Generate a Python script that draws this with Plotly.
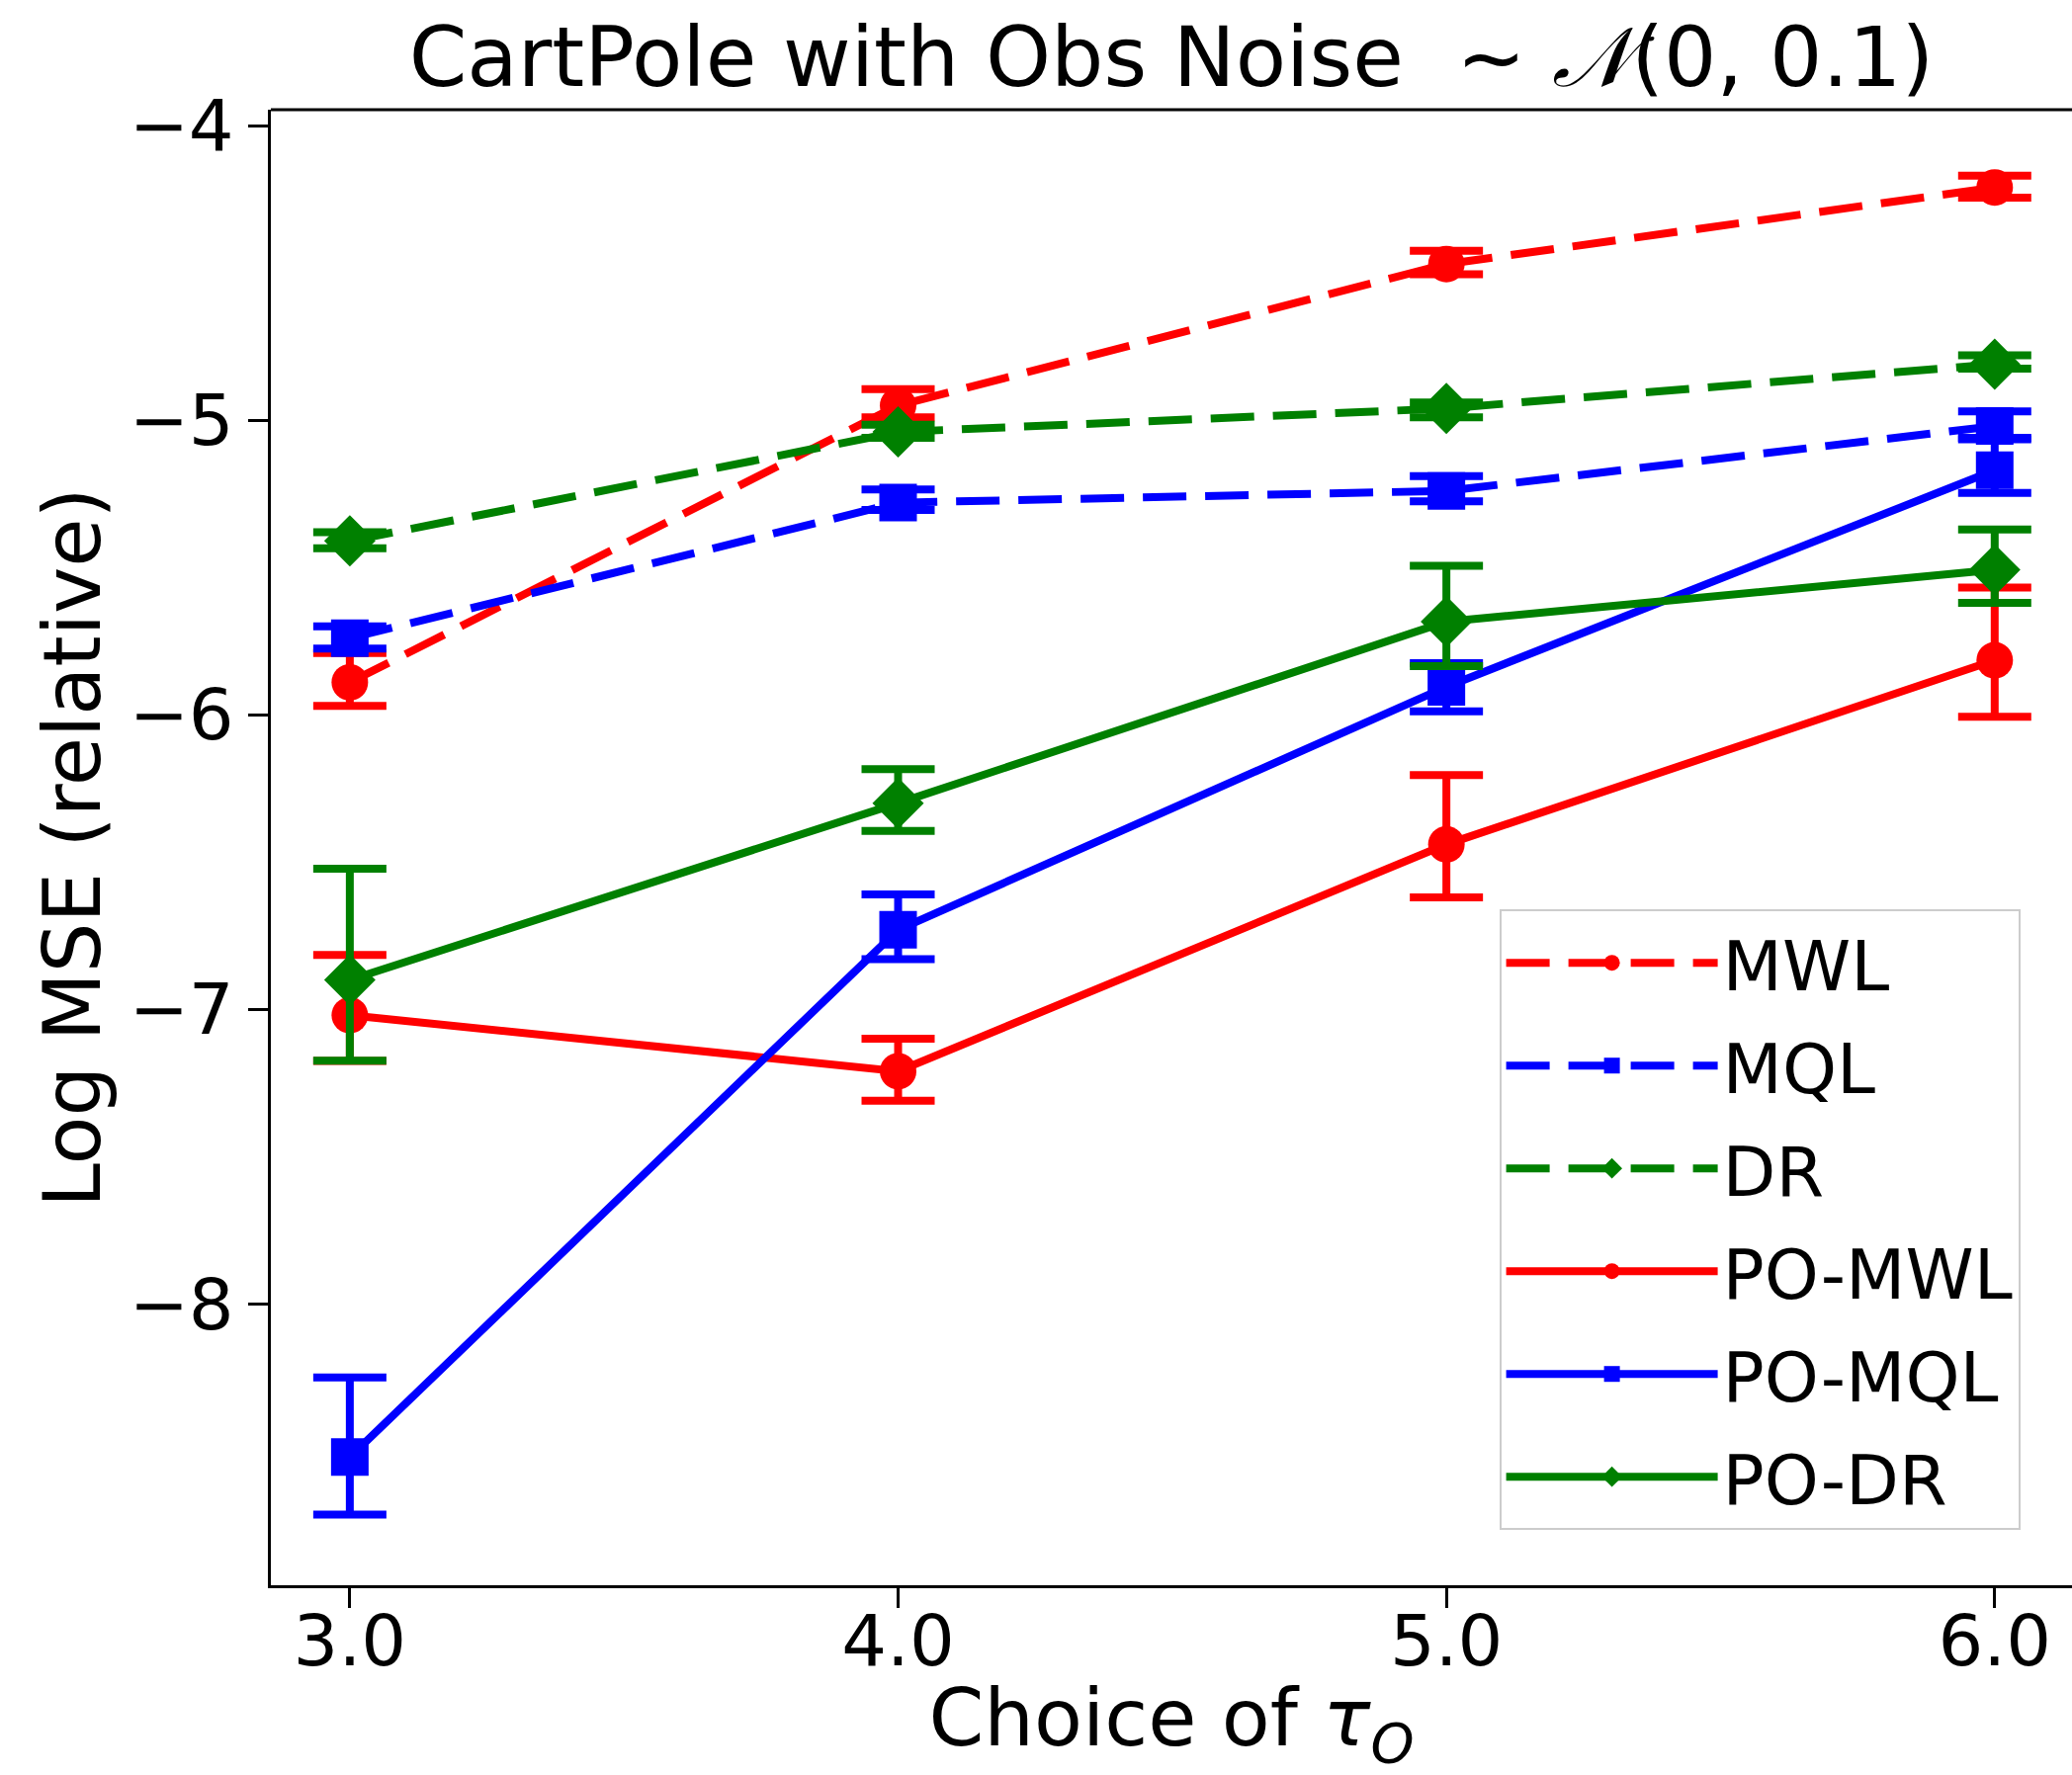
import plotly.graph_objects as go

# ---- data ----
tau = [3.0, 4.0, 5.0, 6.0]
tick_labels = ["3.0", "4.0", "5.0", "6.0"]

series_names = ["MWL", "MQL", "DR", "PO-MWL", "PO-MQL", "PO-DR"]

mwl = [-5.89, -4.95, -4.47, -4.21]
mwl_up = [0.10, 0.055, 0.045, 0.04]
mwl_dn = [0.08, 0.04, 0.035, 0.035]

mql = [-5.74, -5.28, -5.24, -5.02]
mql_up = [0.04, 0.045, 0.05, 0.05]
mql_dn = [0.035, 0.025, 0.035, 0.04]

dr = [-5.41, -5.04, -4.96, -4.81]
dr_up = [0.03, 0.025, 0.02, 0.03]
dr_dn = [0.025, 0.02, 0.03, 0.015]

po_mwl = [-7.02, -7.21, -6.44, -5.815]
po_mwl_up = [0.205, 0.11, 0.235, 0.247]
po_mwl_dn = [0.155, 0.10, 0.18, 0.192]

po_mql = [-8.52, -6.73, -5.905, -5.17]
po_mql_up = [0.27, 0.12, 0.08, 0.105]
po_mql_dn = [0.195, 0.10, 0.083, 0.077]

po_dr = [-6.90, -6.30, -5.684, -5.508]
po_dr_up = [0.377, 0.115, 0.19, 0.137]
po_dr_dn = [0.274, 0.094, 0.151, 0.112]

values = [mwl, mql, dr, po_mwl, po_mql, po_dr]
err_up = [mwl_up, mql_up, dr_up, po_mwl_up, po_mql_up, po_dr_up]
err_dn = [mwl_dn, mql_dn, dr_dn, po_mwl_dn, po_mql_dn, po_dr_dn]

# ---- styles ----
colors = ["#ff0000", "#0000ff", "#008000", "#ff0000", "#0000ff", "#008000"]
symbols = ["circle", "square", "diamond", "circle", "square", "diamond"]
sizes = [37, 38, 40, 37, 38, 40]
dashes = ["44px,19px", "44px,19px", "44px,19px", "solid", "solid", "solid"]

FONT = "DejaVu Sans"

fig = go.Figure()
for i, name in enumerate(series_names):
    fig.add_trace(go.Scatter(
        x=tau, y=values[i], name=name, mode="lines+markers",
        legendgroup=name,
        line=dict(color=colors[i], width=8, dash=dashes[i]),
        marker=dict(color=colors[i], symbol=symbols[i], size=sizes[i],
                    line=dict(width=0)),
        error_y=dict(type="data", symmetric=False, array=err_up[i],
                     arrayminus=err_dn[i], color=colors[i],
                     thickness=8, width=37),
    ))

fig.update_layout(
    width=2096, height=1796,
    margin=dict(l=274, r=0, t=111, b=192),
    paper_bgcolor="white", plot_bgcolor="white",
    font=dict(family=FONT, color="black", size=72),
    title=dict(text="CartPole with Obs Noise  ~ <i>𝒩</i>(0, 0.1)",
               font=dict(family=FONT, size=84, color="black"),
               x=1185 / 2096, xanchor="center",
               y=1 - 58 / 1796, yanchor="middle"),
    showlegend=True,
    legend=dict(x=0.682, y=0.458, xanchor="left", yanchor="top",
                bgcolor="rgba(255,255,255,0.8)", bordercolor="#cccccc",
                borderwidth=2, font=dict(family=FONT, size=70, color="black"),
                tracegroupgap=10, itemwidth=214,
                entrywidthmode="pixels", entrywidth=420),
)

fig.update_xaxes(
    range=[2.856, 6.141], tickmode="array", tickvals=tau, ticktext=tick_labels,
    automargin=False,
    showgrid=False, zeroline=False, showline=True, linecolor="black",
    linewidth=3, ticks="outside", ticklen=20, tickwidth=3, tickcolor="black",
    ticklabelstandoff=-28,
    tickfont=dict(family=FONT, size=72, color="black"),
    title=dict(text="Choice of <i>τ</i><sub><i>O</i></sub>",
               font=dict(family=FONT, size=80, color="black"), standoff=55),
)
fig.update_yaxes(
    range=[-8.955, -3.946], tickmode="array", tickvals=[-8, -7, -6, -5, -4],
    automargin=False,
    showgrid=False, zeroline=False, showline=True, linecolor="black",
    linewidth=3, ticks="outside", ticklen=20, tickwidth=3, tickcolor="black",
    tickfont=dict(family=FONT, size=72, color="black"),
    title=dict(text="Log MSE (relative)",
               font=dict(family=FONT, size=80, color="black"), standoff=3),
)

# top spine
fig.add_shape(type="line", xref="paper", yref="paper", x0=0, x1=1, y0=1, y1=1,
              line=dict(color="black", width=3))

fig.write_html("out.html",
               config={"displayModeBar": False},
               post_script="document.body.style.margin='0';")
